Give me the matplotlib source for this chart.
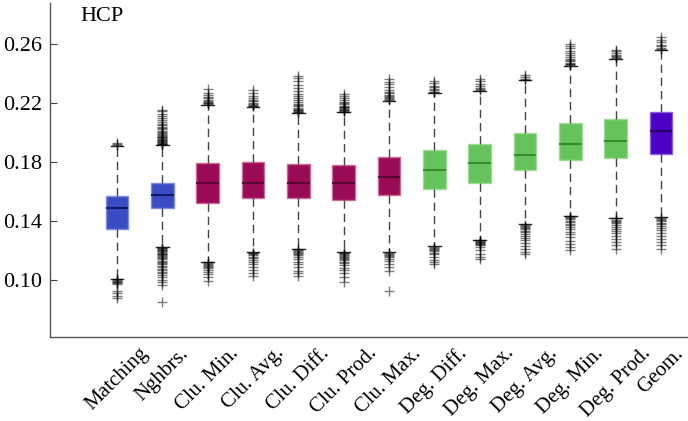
import numpy as np
import matplotlib
matplotlib.use("Agg")
import matplotlib.pyplot as plt

labels = ["Matching", "Nghbrs.", "Clu. Min.", "Clu. Avg.", "Clu. Diff.", "Clu. Prod.",
          "Clu. Max.", "Deg. Diff.", "Deg. Max.", "Deg. Avg.", "Deg. Min.", "Deg. Prod.", "Geom."]
groups = [0, 0, 1, 1, 1, 1, 1, 2, 2, 2, 2, 2, 3]

q1 = [0.1346, 0.1486, 0.1524, 0.1558, 0.1560, 0.1544, 0.1574, 0.1619, 0.1660, 0.1746, 0.1814, 0.1825, 0.1852]
med = [0.1486, 0.1574, 0.1660, 0.1660, 0.1660, 0.1660, 0.1700, 0.1748, 0.1795, 0.1850, 0.1922, 0.1944, 0.2010]
q3 = [0.1572, 0.1662, 0.1791, 0.1802, 0.1787, 0.1782, 0.1834, 0.1881, 0.1920, 0.1995, 0.2069, 0.2092, 0.2137]
whislo = [0.1010, 0.1225, 0.1125, 0.1190, 0.1210, 0.1190, 0.1190, 0.1228, 0.1272, 0.1380, 0.1438, 0.1422, 0.1427]
whishi = [0.1912, 0.1918, 0.2188, 0.2173, 0.2132, 0.2140, 0.2218, 0.2270, 0.2286, 0.2354, 0.2454, 0.2500, 0.2563]

fliers_high = [
    [0.1917, 0.1922, 0.1928],
    [0.1920, 0.1923, 0.1926, 0.1930, 0.1934, 0.1938, 0.1942, 0.1947, 0.1952, 0.1957, 0.1962,
     0.1968, 0.1974, 0.1980, 0.1986, 0.1992, 0.1999, 0.2006, 0.2014, 0.2022, 0.2031, 0.2040,
     0.2050, 0.2061, 0.2073, 0.2086, 0.2100, 0.2115, 0.2130, 0.2145, 0.2157],
    [0.2194, 0.2198, 0.2203, 0.2209, 0.2216, 0.2224, 0.2233, 0.2243, 0.2256, 0.2272, 0.2293],
    [0.2178, 0.2183, 0.2189, 0.2196, 0.2204, 0.2213, 0.2224, 0.2237, 0.2252, 0.2270, 0.2292],
    [0.2137, 0.2141, 0.2146, 0.2151, 0.2157, 0.2163, 0.2170, 0.2178, 0.2187, 0.2197, 0.2208,
     0.2220, 0.2234, 0.2249, 0.2265, 0.2283, 0.2303, 0.2325, 0.2350, 0.2368, 0.2385],
    [0.2143, 0.2147, 0.2151, 0.2155, 0.2160, 0.2165, 0.2171, 0.2177, 0.2184, 0.2192, 0.2201,
     0.2211, 0.2222, 0.2235, 0.2248, 0.2259],
    [0.2222, 0.2227, 0.2233, 0.2240, 0.2248, 0.2257, 0.2267, 0.2279, 0.2292, 0.2308, 0.2327,
     0.2345, 0.2363],
    [0.2273, 0.2279, 0.2287, 0.2296, 0.2307, 0.2320, 0.2335, 0.2349],
    [0.2290, 0.2297, 0.2306, 0.2318, 0.2333, 0.2348, 0.2361],
    [0.2358, 0.2366, 0.2378, 0.2390],
    [0.2458, 0.2463, 0.2469, 0.2476, 0.2484, 0.2493, 0.2503, 0.2514, 0.2526, 0.2540, 0.2556,
     0.2574, 0.2590, 0.2600],
    [0.2505, 0.2512, 0.2520, 0.2530, 0.2542, 0.2552, 0.2560],
    [0.2567, 0.2575, 0.2585, 0.2597, 0.2612, 0.2630, 0.2650],
]

fliers_low = [
    [0.1005, 0.1000, 0.0995, 0.0990, 0.0985, 0.0980, 0.0975, 0.0925, 0.0910, 0.0895, 0.0880],
    [0.1220, 0.1216, 0.1212, 0.1207, 0.1202, 0.1197, 0.1192, 0.1186, 0.1180, 0.1174, 0.1168,
     0.1161, 0.1154, 0.1147, 0.1140, 0.1132, 0.1124, 0.1115, 0.1106, 0.1097, 0.1088, 0.1078,
     0.1068, 0.1057, 0.1045, 0.1032, 0.1018, 0.1003, 0.0985, 0.0966, 0.0850],
    [0.1120, 0.1115, 0.1110, 0.1104, 0.1097, 0.1089, 0.1080, 0.1068, 0.1055, 0.1040, 0.1020, 0.0995],
    [0.1186, 0.1181, 0.1175, 0.1168, 0.1160, 0.1150, 0.1138, 0.1124, 0.1108, 0.1090, 0.1068,
     0.1045, 0.1027],
    [0.1208, 0.1204, 0.1199, 0.1193, 0.1186, 0.1178, 0.1168, 0.1156, 0.1142, 0.1126, 0.1108,
     0.1088, 0.1065, 0.1045, 0.1027],
    [0.1186, 0.1182, 0.1177, 0.1172, 0.1166, 0.1160, 0.1153, 0.1145, 0.1136, 0.1126, 0.1114,
     0.1100, 0.1084, 0.1066, 0.1045, 0.1020, 0.0984],
    [0.1186, 0.1180, 0.1173, 0.1165, 0.1155, 0.1143, 0.1128, 0.1110, 0.1090, 0.1061, 0.0925],
    [0.1225, 0.1220, 0.1214, 0.1207, 0.1198, 0.1187, 0.1174, 0.1158, 0.1138, 0.1120, 0.1106],
    [0.1270, 0.1265, 0.1260, 0.1256, 0.1252, 0.1248, 0.1243, 0.1236, 0.1225, 0.1205, 0.1180,
     0.1160, 0.1140],
    [0.1376, 0.1370, 0.1363, 0.1355, 0.1346, 0.1336, 0.1325, 0.1313, 0.1300, 0.1286, 0.1270,
     0.1253, 0.1234, 0.1212, 0.1190, 0.1174],
    [0.1434, 0.1428, 0.1421, 0.1413, 0.1404, 0.1394, 0.1383, 0.1371, 0.1358, 0.1344, 0.1328,
     0.1310, 0.1290, 0.1268, 0.1245, 0.1222, 0.1203],
    [0.1418, 0.1411, 0.1403, 0.1394, 0.1384, 0.1373, 0.1361, 0.1348, 0.1334, 0.1318, 0.1300,
     0.1280, 0.1258, 0.1235, 0.1212],
    [0.1423, 0.1416, 0.1408, 0.1399, 0.1389, 0.1378, 0.1366, 0.1352, 0.1337, 0.1320, 0.1301,
     0.1280, 0.1258, 0.1235, 0.1212],
]

face_colors = ["#3a4cc4", "#9b0a55", "#64c35a", "#4b00c3"]
edge_colors = ["#7f8ee0", "#c86a96", "#9edc96", "#8a60dc"]
median_colors = ["#101a66", "#5a0630", "#3a8a30", "#26006a"]

plt.rcParams["font.family"] = ["Liberation Serif", "DejaVu Serif"]

fig = plt.figure(figsize=(6.88, 4.21), dpi=100)
ax = fig.add_axes([0.0727, 0.1995, 0.9273, 0.7935])

stats = []
for i in range(len(labels)):
    stats.append(dict(label=labels[i], q1=q1[i], med=med[i], q3=q3[i],
                      whislo=whislo[i], whishi=whishi[i],
                      fliers=np.array(fliers_low[i] + fliers_high[i])))

positions = np.arange(1, len(labels) + 1)
bp = ax.bxp(stats, positions=positions, widths=0.5, capwidths=0.28,
            patch_artist=True, showfliers=True,
            whiskerprops=dict(color="#444444", linestyle=(0, (6, 3.5)), linewidth=1),
            capprops=dict(color="#222222", linewidth=1),
            flierprops=dict(marker="+", markersize=7, markeredgecolor="black",
                            markeredgewidth=1, alpha=0.5, linestyle="none"),
            medianprops=dict(linewidth=1.5))

for i, box in enumerate(bp["boxes"]):
    g = groups[i]
    box.set_facecolor(face_colors[g])
    box.set_edgecolor(edge_colors[g])
    box.set_linewidth(1)
    bp["medians"][i].set_color(median_colors[g])

ax.set_xlim(-0.478, 13.596)
ax.set_ylim(0.0614, 0.288)
ax.set_yticks([0.10, 0.14, 0.18, 0.22, 0.26])
ax.set_yticklabels(["0.10", "0.14", "0.18", "0.22", "0.26"], fontsize=16)
ax.set_xticks(positions)
ax.set_xticklabels(labels, rotation=45, ha="center", fontsize=15)

ax.tick_params(axis="y", direction="in", length=5, color="#444444", pad=6)
ax.tick_params(axis="x", length=0, pad=5)
for side in ["top", "right"]:
    ax.spines[side].set_visible(False)
for side in ["left", "bottom"]:
    ax.spines[side].set_color("#555555")
    ax.spines[side].set_linewidth(1)

ax.text(0.047, 0.946, "HCP", transform=ax.transAxes, fontsize=16, va="baseline")

fig.savefig("out.png", dpi=100)
